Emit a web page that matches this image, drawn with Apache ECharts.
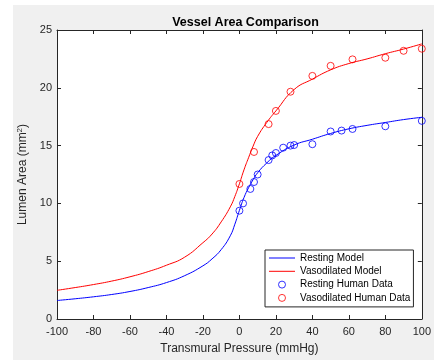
<!DOCTYPE html>
<html>
<head>
<meta charset="utf-8">
<script src="https://cdn.jsdelivr.net/npm/echarts@6/dist/echarts.min.js"></script>
<style>
  html, body { margin: 0; padding: 0; background: #ffffff; }
  #bg { position: absolute; left: 13px; top: 5px; width: 421px; height: 355px; background: #f0f0f0; }
  #chart { position: absolute; left: 0; top: 0; width: 434px; height: 360px; }
</style>
</head>
<body>
<div id="bg"></div>
<div id="chart"></div>
<script>
// Model curves
const modelPressure = [-100,-90,-80,-70,-60,-50,-40,-30,-20,-15,-10,-5,-2.5,0,2.5,5,7.5,10,15,20,30,40,50,60,70,80,90,100];
const restingModel  = [1.6,1.75,1.92,2.12,2.38,2.72,3.15,3.75,4.6,5.2,6.0,7.2,8.2,9.4,10.5,11.35,12.05,12.65,13.5,14.15,15.05,15.55,16.05,16.45,16.75,17.0,17.25,17.45];
const vasoModel     = [2.48,2.72,2.98,3.28,3.65,4.1,4.65,5.35,6.6,7.35,8.4,9.7,10.6,11.7,12.9,13.95,14.95,15.8,17.0,18.0,19.85,20.75,21.55,22.1,22.5,22.95,23.35,23.8];

// Human data
const restingPressure = [0,2,6,8,10,16,18,20,24,28,30,40,50,56,62,80,100];
const restingArea     = [9.37,10.0,11.25,11.85,12.5,13.75,14.15,14.36,14.82,15.0,15.05,15.12,16.22,16.3,16.44,16.67,17.14];
const vasoPressure = [0,8,16,20,28,40,50,62,80,90,100];
const vasoArea     = [11.68,14.45,16.86,18.0,19.66,21.03,21.9,22.46,22.6,23.2,23.38];

const xTicks = { min: -100, max: 100, interval: 20 };
const yTicks = { min: 0, max: 25, interval: 5 };

const zip = (xs, ys) => xs.map((x, i) => [x, ys[i]]);
const axisColor = '#262626';
const font = 'Liberation Sans, Arial, sans-serif';
const lineIcon = 'path://M0,0 L26,0 L26,1 L0,1 Z';

const chart = echarts.init(document.getElementById('chart'), null, { renderer: 'canvas' });

const baseAxis = {
  axisLine: { show: true, onZero: false, lineStyle: { color: axisColor, width: 1 } },
  axisTick: { show: true, inside: true, length: 4, lineStyle: { color: axisColor } },
  splitLine: { show: false },
};

chart.setOption({
  backgroundColor: 'transparent',
  animation: false,
  title: {
    text: 'Vessel Area Comparison',
    left: 240.5, top: 11, textAlign: 'center',
    textStyle: { fontFamily: font, fontSize: 12.5, fontWeight: 'bold', color: '#000' }
  },
  grid: { left: 57, right: 10, top: 30, bottom: 41, show: true, backgroundColor: '#ffffff', borderWidth: 0 },
  xAxis: [
    Object.assign({}, baseAxis, {
      type: 'value', position: 'bottom', min: xTicks.min, max: xTicks.max, interval: xTicks.interval,
      name: 'Transmural Pressure (mmHg)', nameLocation: 'middle', nameGap: 24,
      nameTextStyle: { fontFamily: font, fontSize: 12, color: axisColor },
      axisLabel: { fontFamily: font, fontSize: 11, color: axisColor, margin: 7 }
    }),
    Object.assign({}, baseAxis, {
      type: 'value', position: 'top', min: xTicks.min, max: xTicks.max, interval: xTicks.interval,
      axisLabel: { show: false }
    })
  ],
  yAxis: [
    Object.assign({}, baseAxis, {
      type: 'value', position: 'left', min: yTicks.min, max: yTicks.max, interval: yTicks.interval,
      name: 'Lumen Area (mm{sup|2})', nameLocation: 'middle', nameGap: 21,
      nameTextStyle: { fontFamily: font, fontSize: 12, color: axisColor,
        rich: { sup: { fontFamily: font, fontSize: 8, color: axisColor, verticalAlign: 'top', padding: [0, 0, 6, 0] } } },
      axisLabel: { fontFamily: font, fontSize: 11, color: axisColor, margin: 5 }
    }),
    Object.assign({}, baseAxis, {
      type: 'value', position: 'right', min: yTicks.min, max: yTicks.max, interval: yTicks.interval,
      axisLabel: { show: false }
    })
  ],
  legend: {
    orient: 'vertical', left: 265, top: 250,
    padding: [3, 3, 4, 4], itemGap: 3.3, itemWidth: 26, itemHeight: 7,
    backgroundColor: '#ffffff', borderColor: axisColor, borderWidth: 1, borderRadius: 0,
    textStyle: { fontFamily: font, fontSize: 10, color: '#000' },
    data: [
      { name: 'Resting Model', icon: lineIcon, itemStyle: { color: '#0000ff', borderWidth: 0 } },
      { name: 'Vasodilated Model', icon: lineIcon, itemStyle: { color: '#ff0000', borderWidth: 0 } },
      { name: 'Resting Human Data', icon: 'circle', itemStyle: { color: 'rgba(0,0,0,0)', borderColor: '#0000ff', borderWidth: 1 } },
      { name: 'Vasodilated Human Data', icon: 'circle', itemStyle: { color: 'rgba(0,0,0,0)', borderColor: '#ff0000', borderWidth: 1 } }
    ]
  },
  series: [
    {
      name: 'Resting Model', type: 'line', data: zip(modelPressure, restingModel),
      smooth: 0.5, symbol: 'none',
      lineStyle: { color: '#0000ff', width: 1 }, itemStyle: { color: '#0000ff' }
    },
    {
      name: 'Vasodilated Model', type: 'line', data: zip(modelPressure, vasoModel),
      smooth: 0.5, symbol: 'none',
      lineStyle: { color: '#ff0000', width: 1 }, itemStyle: { color: '#ff0000' }
    },
    {
      name: 'Resting Human Data', type: 'scatter', data: zip(restingPressure, restingArea),
      symbol: 'circle', symbolSize: 7,
      itemStyle: { color: 'rgba(0,0,0,0)', borderColor: '#0000ff', borderWidth: 1 }
    },
    {
      name: 'Vasodilated Human Data', type: 'scatter', data: zip(vasoPressure, vasoArea),
      symbol: 'circle', symbolSize: 7,
      itemStyle: { color: 'rgba(0,0,0,0)', borderColor: '#ff0000', borderWidth: 1 }
    }
  ]
});
</script>
</body>
</html>
